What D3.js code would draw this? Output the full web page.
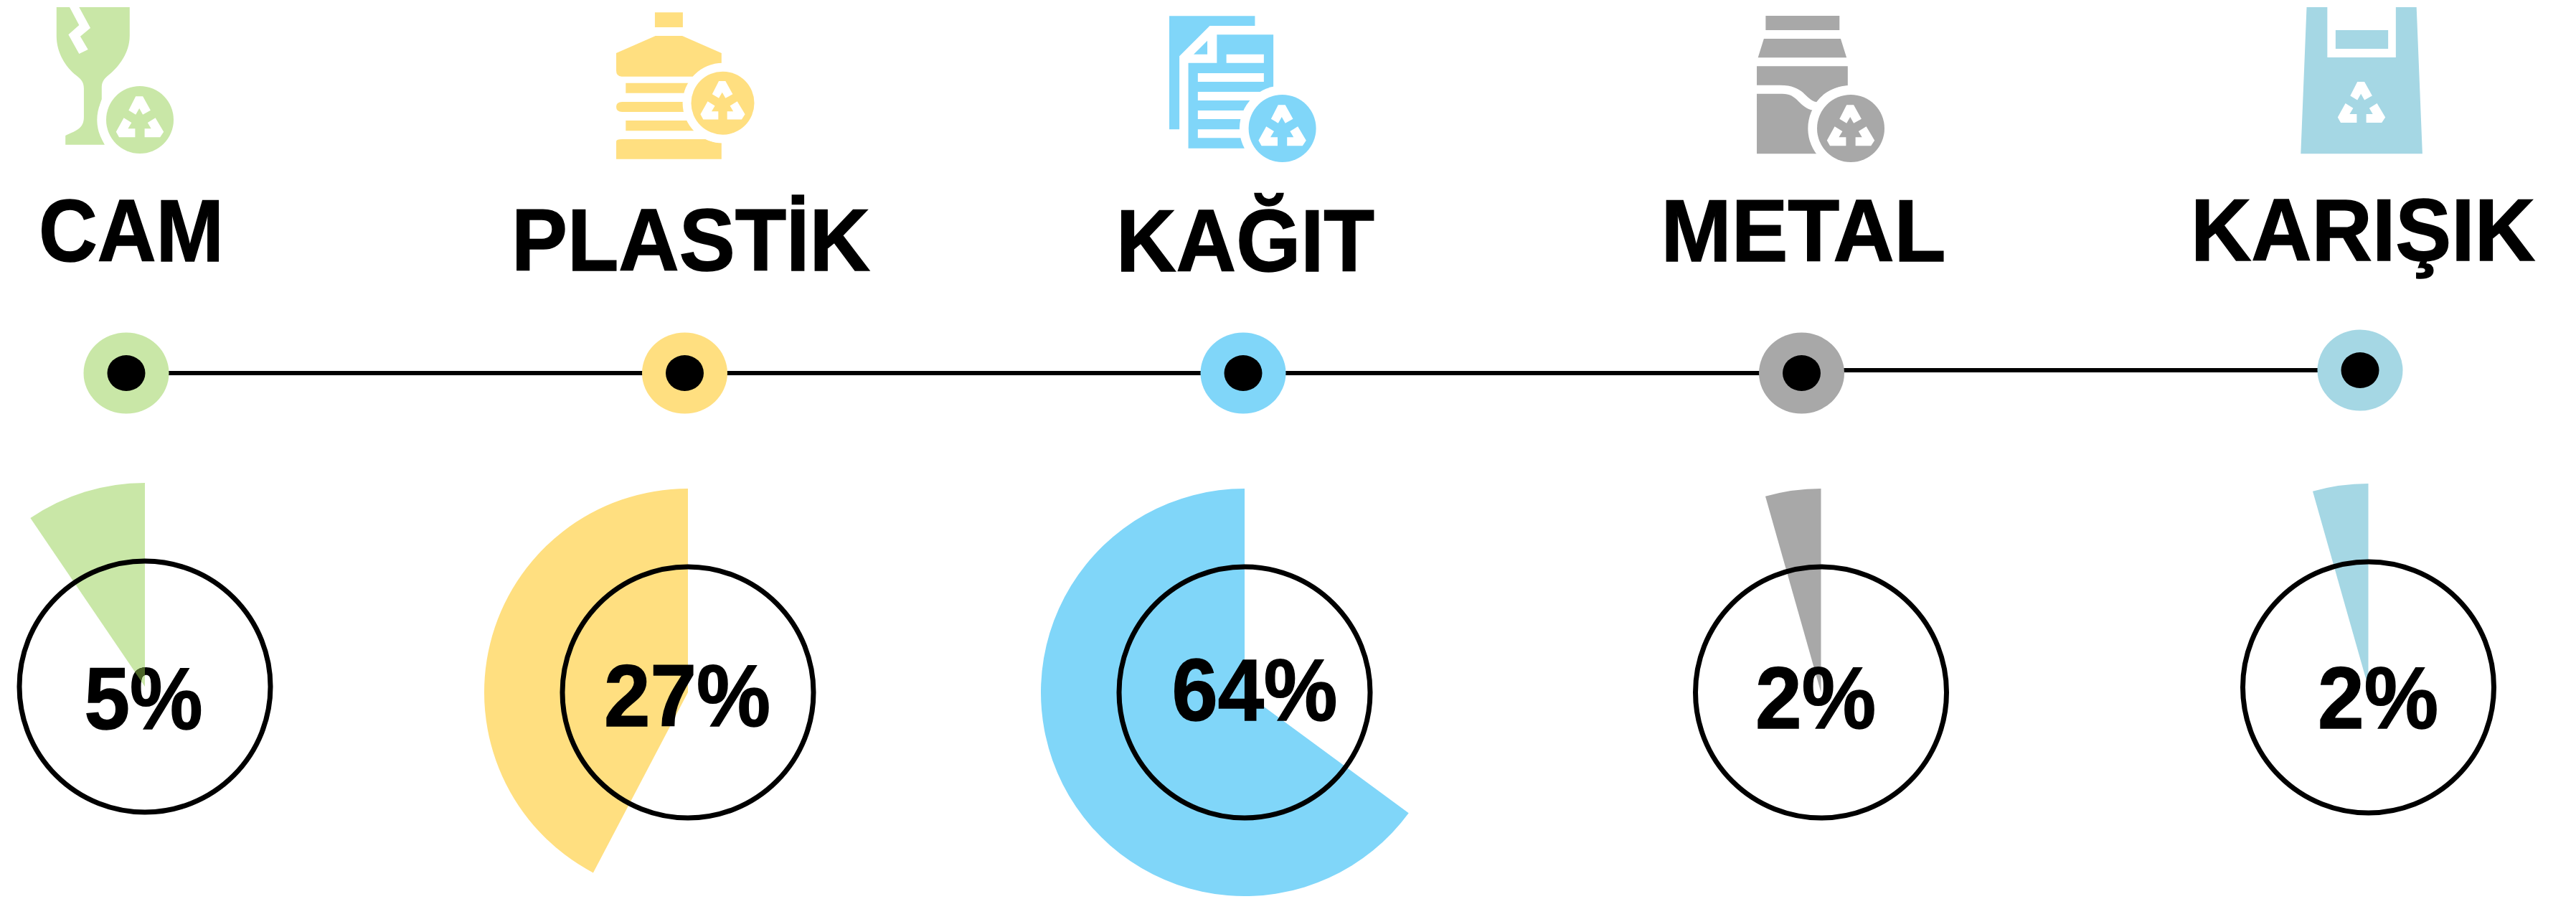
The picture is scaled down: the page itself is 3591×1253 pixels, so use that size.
<!DOCTYPE html>
<html>
<head>
<meta charset="utf-8">
<script src="https://cdn.jsdelivr.net/npm/d3@7"></script>
<style>
  html, body { margin: 0; padding: 0; background: #fff; }
  svg { display: block; }
  text { font-family: "Liberation Sans", Arial, sans-serif; font-weight: bold; fill: #000; stroke: #000; stroke-width: 1.5px; }
</style>
</head>
<body>
<div id="chart"></div>
<script>
// ==================== DATA ====================
const categories = ["CAM", "PLASTİK", "KAĞIT", "METAL", "KARIŞIK"];
const shareLabels = ["5%", "27%", "64%", "2%", "2%"];
// swept part of each wedge in percent, measured on the picture (not the same as the printed label)
const wedgeShares = [9.5, 42.3, 64.9, 4.4, 4.4];
const colors = ["#c9e7a7", "#ffdf80", "#80d6f9", "#a8a8a8", "#a5d7e4"];

// ==================== LAYOUT ====================
const width = 3591, height = 1253;
const pieX = [202, 959, 1735, 2538.5, 3301.5];
const pieY = [957, 965, 965, 965, 958];
const labelX = [183, 963, 1736, 2514, 3294];
const labelY = [364, 377, 378, 364, 363];
const labelW = [258, 500, 360, 397, 480];
const shareX = [200, 958, 1749, 2531, 3315];
const shareY = [1016, 1012, 1004, 1015, 1015];
const shareW = [165, 232, 231, 168, 168];
const outerR = 284, innerCircleR = 175;

const svg = d3.select("#chart").append("svg").attr("width", width).attr("height", height);

// ==================== ICONS ====================
// outlines traced on crops of the picture, so they are in crop units
const cropGroup = (x0, sx) => svg.append("g").attr("transform", `translate(${x0},0) scale(${1 / sx},${1 / 3})`);

const icons = [
  { x0: 0, sx: 1.206, badge: [195, 167, 47], paths: [
    "M95 30L218 30L218 150C218 220 200 280 182 315C172 335 171 350 171 370L171 415C165 450 162 540 176 605L110 605L110 567C130 545 141 535 141 490L141 370C141 340 135 330 128 315C110 280 95 220 95 150Z"
  ], white: ["M117 30L133 105L115 145L133 225L148 207L135 152L152 117L133 30Z"] },
  { x0: 0, sx: 1.206, badge: [1007.5, 143.7, 44], paths: [
    "M1101 52H1148V114H1101Z",
    "M1102 150H1147L1213 222V320H1045Q1036 320 1036 295V222Z",
    "M1052 347H1200V389H1052Z",
    "M1046 426H1200V468H1046Q1036 468 1036 447Q1036 426 1046 426Z",
    "M1052 504H1200V547H1052Z",
    "M1046 582H1187Q1198 597 1213 597V665H1036V592Q1036 582 1046 582Z"
  ], white: [] },
  { x0: 1300, sx: 1.206, badge: [1787.6, 179, 47], paths: [
    "M398 67H542V108H466L415 235V541H398Z",
    "M462 170V227H439Z",
    "M478 145H573V620H430V263H478Z"
  ], white: [
    "M494 227H557V263H494Z", "M446 306H557V342H446Z", "M446 384H600V420H446Z",
    "M446 462H600V498H446Z", "M446 541H600V577H446Z"
  ] },
  { x0: 2300, sx: 1.2146, badge: [2580, 179, 47], paths: [
    "M196 66H321V126H196Z",
    "M193 162H323L333 241H183Z",
    "M181 277H335V358C310 362 292 392 282 427C262 415 262 356 220 356H181Z",
    "M181 392H224C250 392 250 440 273 460L300 460V643H181Z"
  ], white: [] },
  { x0: 2300, sx: 1.2146, badge: null, paths: [
    "M1112 30H1147V240H1263V30H1298L1308 643H1102Z",
    "M1161 126H1250V204H1161Z"
  ], white: [] }
];

// white recycle arrows, px around the badge centre at r = 47
const arrows = [
  "M-5.8 -32.7L4.1 -32.7L14.9 -13.3L4.1 -7.3L-0.8 -16L-5.8 -7.3L-15.7 -13.3Z",
  "M-22.4 -2.7L-11.6 4L-16.6 12.3L-6.6 12.3L-6.6 24.3L-29 24.3L-33.2 16.7Z",
  "M21.6 -2.7L10.8 4L15.7 12.3L6.6 12.3L6.6 24.3L28.2 24.3L33.2 16.7Z"
];

function drawArrows(cx, cy, r) {
  const a = svg.append("g").attr("transform", `translate(${cx},${cy}) scale(${r / 47})`);
  arrows.forEach((d) => a.append("path").attr("d", d).attr("fill", "#fff"));
}

icons.forEach((icon, i) => {
  const g = cropGroup(icon.x0, icon.sx);
  icon.paths.forEach((d) => g.append("path").attr("d", d).attr("fill", colors[i]));
  icon.white.forEach((d) => g.append("path").attr("d", d).attr("fill", "#fff"));

  if (icon.badge) {
    const [cx, cy, r] = icon.badge;
    svg.append("circle").attr("cx", cx).attr("cy", cy).attr("r", r * 1.27).attr("fill", "#fff");
    svg.append("circle").attr("cx", cx).attr("cy", cy).attr("r", r).attr("fill", colors[i]);
    drawArrows(cx, cy, r);
  } else {
    // the bag has its arrows printed straight on it
    drawArrows(3292, 146.7, 47);
  }
});

// ==================== LABELS ====================
svg.selectAll("text.cat")
  .data(categories)
  .enter()
  .append("text")
  .attr("class", "cat")
  .attr("x", (d, i) => labelX[i])
  .attr("y", (d, i) => labelY[i])
  .attr("text-anchor", "middle")
  .attr("font-size", 122)
  .attr("textLength", (d, i) => labelW[i])
  .attr("lengthAdjust", "spacingAndGlyphs")
  .text((d) => d);

// ==================== TIMELINE ====================
const nodeX = d3.scalePoint().domain(categories).range([176, 3290]);
const nodeY = [520, 520, 520, 520, 516];

// the last stretch sits a few px higher and does not slope
const stretches = d3.pairs(categories.map((c, i) => [nodeX(c), nodeY[i]]));
svg.selectAll("line.link")
  .data(stretches)
  .enter()
  .append("line")
  .attr("class", "link")
  .attr("x1", (d) => d[0][0])
  .attr("x2", (d) => d[1][0])
  .attr("y1", (d) => d[1][1])
  .attr("y2", (d) => d[1][1])
  .attr("stroke", "#000")
  .attr("stroke-width", 6);

categories.forEach((c, i) => {
  svg.append("ellipse").attr("cx", nodeX(c)).attr("cy", nodeY[i]).attr("rx", 59.5).attr("ry", 56.5).attr("fill", colors[i]);
  svg.append("ellipse").attr("cx", nodeX(c)).attr("cy", nodeY[i]).attr("rx", 26.5).attr("ry", 25).attr("fill", "#000");
});

// ==================== WEDGES ====================
const angle = d3.scaleLinear().domain([0, 100]).range([0, -2 * Math.PI]);
const arc = d3.arc().innerRadius(0).outerRadius(outerR).startAngle(0);
const wedgePath = (d) => arc({ endAngle: angle(d) });

svg.selectAll("path.wedge")
  .data(wedgeShares)
  .enter()
  .append("path")
  .attr("class", "wedge")
  .attr("transform", (d, i) => `translate(${pieX[i]},${pieY[i]})`)
  .attr("d", wedgePath)
  .attr("fill", (d, i) => colors[i]);

svg.selectAll("circle.ring")
  .data(categories)
  .enter()
  .append("circle")
  .attr("class", "ring")
  .attr("cx", (d, i) => pieX[i])
  .attr("cy", (d, i) => pieY[i])
  .attr("r", innerCircleR)
  .attr("fill", "none")
  .attr("stroke", "#000")
  .attr("stroke-width", 7);

const shareText = (sel) => sel
  .attr("x", (d, i) => shareX[i])
  .attr("y", (d, i) => shareY[i])
  .attr("text-anchor", "middle")
  .attr("font-size", 122)
  .attr("textLength", (d, i) => shareW[i])
  .attr("lengthAdjust", "spacingAndGlyphs")
  .text((d) => d);

svg.selectAll("text.share")
  .data(shareLabels)
  .enter()
  .append("text")
  .attr("class", "share")
  .call(shareText);

// CAM only: the green wedge lies over its label, so the overlap turns olive
svg.append("clipPath")
  .attr("id", "camWedge")
  .append("path")
  .attr("transform", `translate(${pieX[0]},${pieY[0]})`)
  .attr("d", wedgePath(wedgeShares[0]));

svg.selectAll("text.tint")
  .data(shareLabels.slice(0, 1))
  .enter()
  .append("text")
  .attr("class", "tint")
  .attr("clip-path", "url(#camWedge)")
  .call(shareText)
  .style("fill", "#4b6427")
  .style("stroke", "#4b6427");
</script>
</body>
</html>
